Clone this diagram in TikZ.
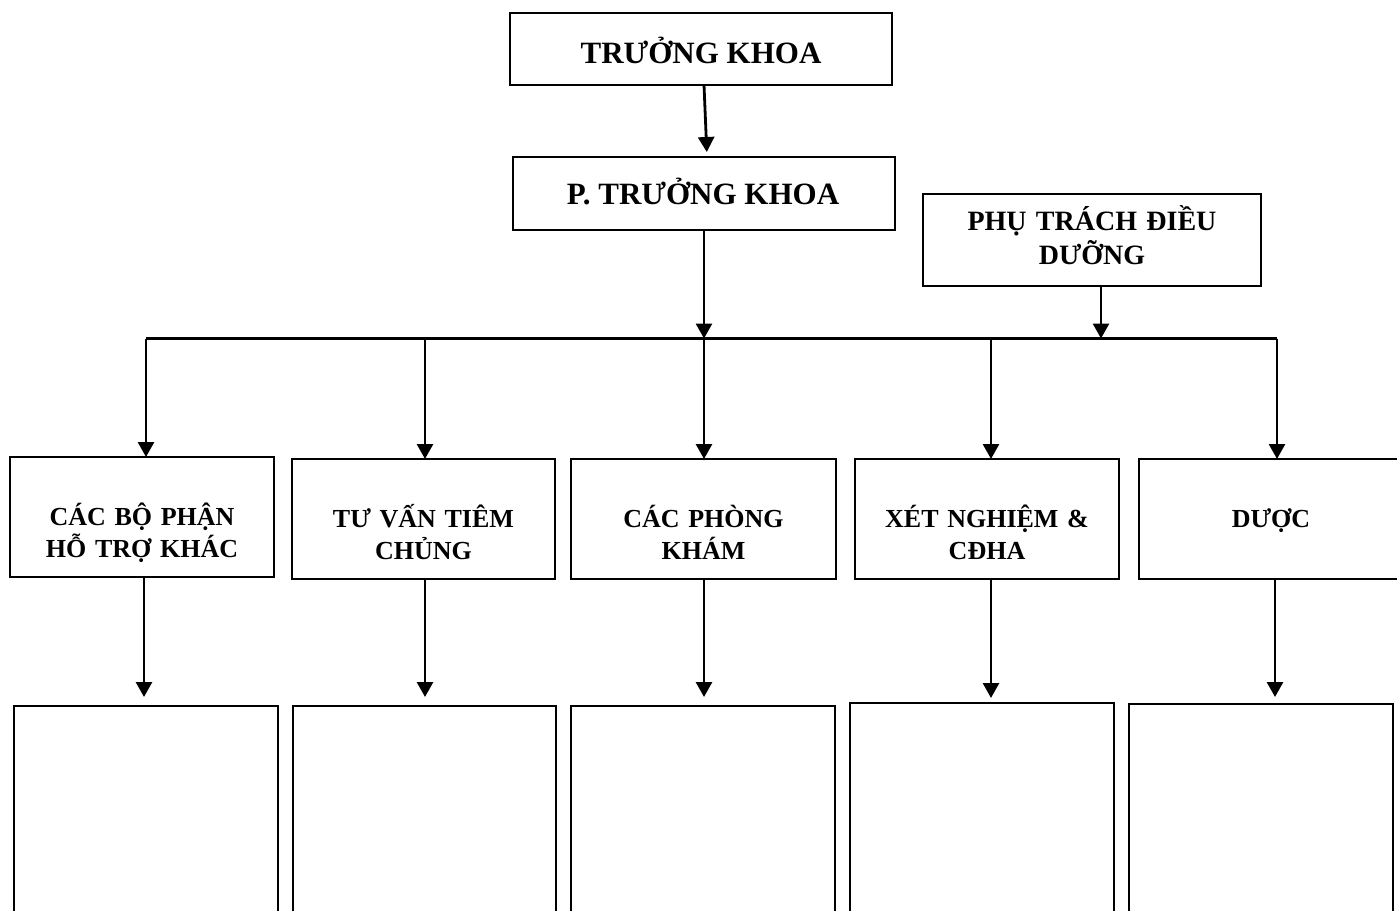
\documentclass[tikz,border=0pt]{standalone}
\usepackage{fontspec}
\setmainfont{Liberation Serif}
\usetikzlibrary{arrows.meta,calc}
\begin{document}
\begin{tikzpicture}[x=1pt,y=-1pt,
  box/.style={draw, line width=2pt, anchor=north west, inner sep=0pt, outer sep=0pt},
  arr/.style={line width=2.8pt, -{Triangle[length=15pt,width=16pt]}},
  bar/.style={line width=2.2pt},
  lbl/.style={anchor=base, align=center, text width=300pt, inner sep=0pt, font=\bfseries\fontsize{26}{32}\selectfont},
  toplbl/.style={anchor=base, align=center, inner sep=0pt, font=\bfseries\fontsize{31}{36}\selectfont},
  midlbl/.style={anchor=base, align=center, text width=330pt, inner sep=0pt, font=\bfseries\fontsize{28}{34}\selectfont}]
\clip (0,0) rectangle (1397,910);
% top
\node[box, minimum width=382pt, minimum height=72pt] (tk) at (510,13) {};
\node[toplbl] (tkt) at (701,63) {TRƯỞNG KHOA};
\node[box, minimum width=382pt, minimum height=73pt] (ptk) at (513,157) {};
\node[toplbl] (ptkt) at (703,204) {P. TRƯỞNG KHOA};
\node[box, minimum width=338pt, minimum height=92pt] (dd) at (923,194) {};
\node[midlbl] (ddt) at (1092,230) {PHỤ TRÁCH ĐIỀU\\DƯỠNG};
% row 2
\node[box, minimum width=264pt, minimum height=120pt] (b1) at (10,457) {};
\node[box, minimum width=263pt, minimum height=120pt] (b2) at (292,459) {};
\node[box, minimum width=265pt, minimum height=120pt] (b3) at (571,459) {};
\node[box, minimum width=264pt, minimum height=120pt] (b4) at (855,459) {};
\node[box, minimum width=264pt, minimum height=120pt] (b5) at (1139,459) {};
\node[lbl] (t1) at (142,525) {CÁC BỘ PHẬN\\HỖ TRỢ KHÁC};
\node[lbl] (t2) at (423.5,527) {TƯ VẤN TIÊM\\CHỦNG};
\node[lbl] (t3) at (703.5,527) {CÁC PHÒNG\\KHÁM};
\node[lbl] (t4) at (987,527) {XÉT NGHIỆM \&\\CĐHA};
\node[lbl] (t5) at (1271,527) {DƯỢC};
% row 3
\node[box, minimum width=264pt, minimum height=260pt] (c1) at (14,706) {};
\node[box, minimum width=263pt, minimum height=260pt] (c2) at (293,706) {};
\node[box, minimum width=264pt, minimum height=260pt] (c3) at (571,706) {};
\node[box, minimum width=264pt, minimum height=260pt] (c4) at (850,703) {};
\node[box, minimum width=264pt, minimum height=260pt] (c5) at (1129,704) {};
% connectors
\coordinate (jl) at (146,338.5);
\coordinate (jr) at (1277,338.5);
\coordinate (j1) at (146,338.5);
\coordinate (j2) at (425,338.5);
\coordinate (j3) at (704,338.5);
\coordinate (j4) at (991,338.5);
\coordinate (j5) at (1277,338.5);
\coordinate (jd) at (1101,338.5);
\draw[arr, shorten >=5pt] ($(tk.south)+(3,0)$) -- ($(ptk.north)+(3,0)$);
\draw[bar] (jl) -- (jr);
\draw[arr] (ptk.south -| j3) -- (j3);
\draw[arr] (dd.south -| jd) -- (jd);
\draw[arr] (j1) -- (j1 |- b1.north);
\draw[arr] (j2) -- (j2 |- b2.north);
\draw[arr] (j3) -- (j3 |- b3.north);
\draw[arr] (j4) -- (j4 |- b4.north);
\draw[arr] (j5) -- (j5 |- b5.north);
\coordinate (x1) at (144,0);
\coordinate (x2) at (425,0);
\coordinate (x3) at (704,0);
\coordinate (x4) at (991,0);
\coordinate (x5) at (1275,0);
\draw[arr, shorten >=9pt] (b1.south -| x1) -- (c1.north -| x1);
\draw[arr, shorten >=9pt] (b2.south -| x2) -- (c2.north -| x2);
\draw[arr, shorten >=9pt] (b3.south -| x3) -- (c3.north -| x3);
\draw[arr, shorten >=5pt] (b4.south -| x4) -- (c4.north -| x4);
\draw[arr, shorten >=7pt] (b5.south -| x5) -- (c5.north -| x5);
\end{tikzpicture}
\end{document}
